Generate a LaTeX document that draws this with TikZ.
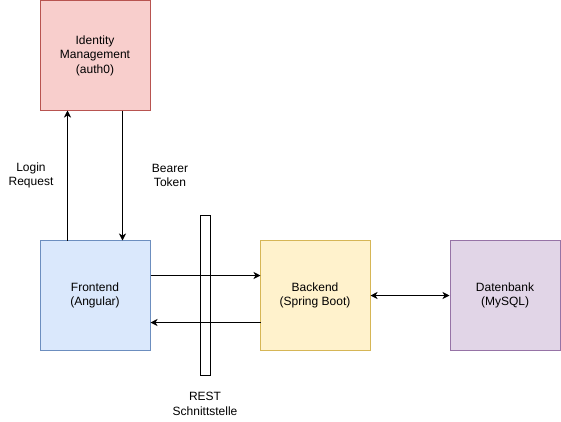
\documentclass[tikz,border=0pt]{standalone}
\usepackage{fontspec}
\setmainfont{Liberation Sans}
\usetikzlibrary{arrows.meta}
\definecolor{redfill}{HTML}{F8CECC}\definecolor{redline}{HTML}{B85450}
\definecolor{bluefill}{HTML}{DAE8FC}\definecolor{blueline}{HTML}{6C8EBF}
\definecolor{yelfill}{HTML}{FFF2CC}\definecolor{yelline}{HTML}{D6B656}
\definecolor{purfill}{HTML}{E1D5E7}\definecolor{purline}{HTML}{9673A6}
\tikzset{
  box/.style={draw, line width=1pt, minimum width=110pt, minimum height=110pt, inner sep=0pt, align=center, font=\fontsize{12pt}{14.5pt}\selectfont},
  lbl/.style={align=center, inner sep=0pt, font=\fontsize{12pt}{14.5pt}\selectfont},
  conn/.style={line width=1pt, -{Stealth[length=7pt,width=7pt,inset=2pt]}},
  bconn/.style={line width=1pt, {Stealth[length=7pt,width=7pt,inset=2pt]}-{Stealth[length=7pt,width=7pt,inset=2pt]}}
}
\begin{document}
\begin{tikzpicture}[x=1pt,y=-1pt]
\useasboundingbox (0,0) rectangle (561,421);
\node[box, fill=redfill, draw=redline] (idm) at (95,55.5) {Identity\\Management\\(auth0)};
\node[box, fill=bluefill, draw=blueline] (fe) at (95,295.5) {Frontend\\(Angular)};
\node[box, fill=yelfill, draw=yelline] (be) at (315,295.5) {Backend\\(Spring Boot)};
\node[box, fill=purfill, draw=purline] (db) at (505,295.5) {Datenbank\\(MySQL)};
\node[draw, line width=1pt, minimum width=10pt, minimum height=160pt, inner sep=0pt] (rest) at (205.5,295.5) {};
\coordinate (feT1) at (67.5,240.5);
\coordinate (idB1) at (67.5,110.5);
\coordinate (idB2) at (122.5,110.5);
\coordinate (feT2) at (122.5,240.5);
\coordinate (feR1) at (150.5,275.5);
\coordinate (beL1) at (260.5,275.5);
\coordinate (beL2) at (260.5,322.5);
\coordinate (feR2) at (150.5,322.5);
\draw[conn] (feT1) -- (idB1);
\draw[conn] (idB2) -- (feT2);
\draw[conn] (feR1) -- (beL1);
\draw[conn] (beL2) -- (feR2);
\draw[bconn] (be.east |- 0,295.5) -- (db.west |- 0,295.5);
\node[lbl] (login) at (31,175.5) {Login\\Request};
\node[lbl] (bearer) at (170,175.5) {Bearer\\Token};
\node[lbl] (restl) at (205,404) {REST\\Schnittstelle};
\end{tikzpicture}
\end{document}
